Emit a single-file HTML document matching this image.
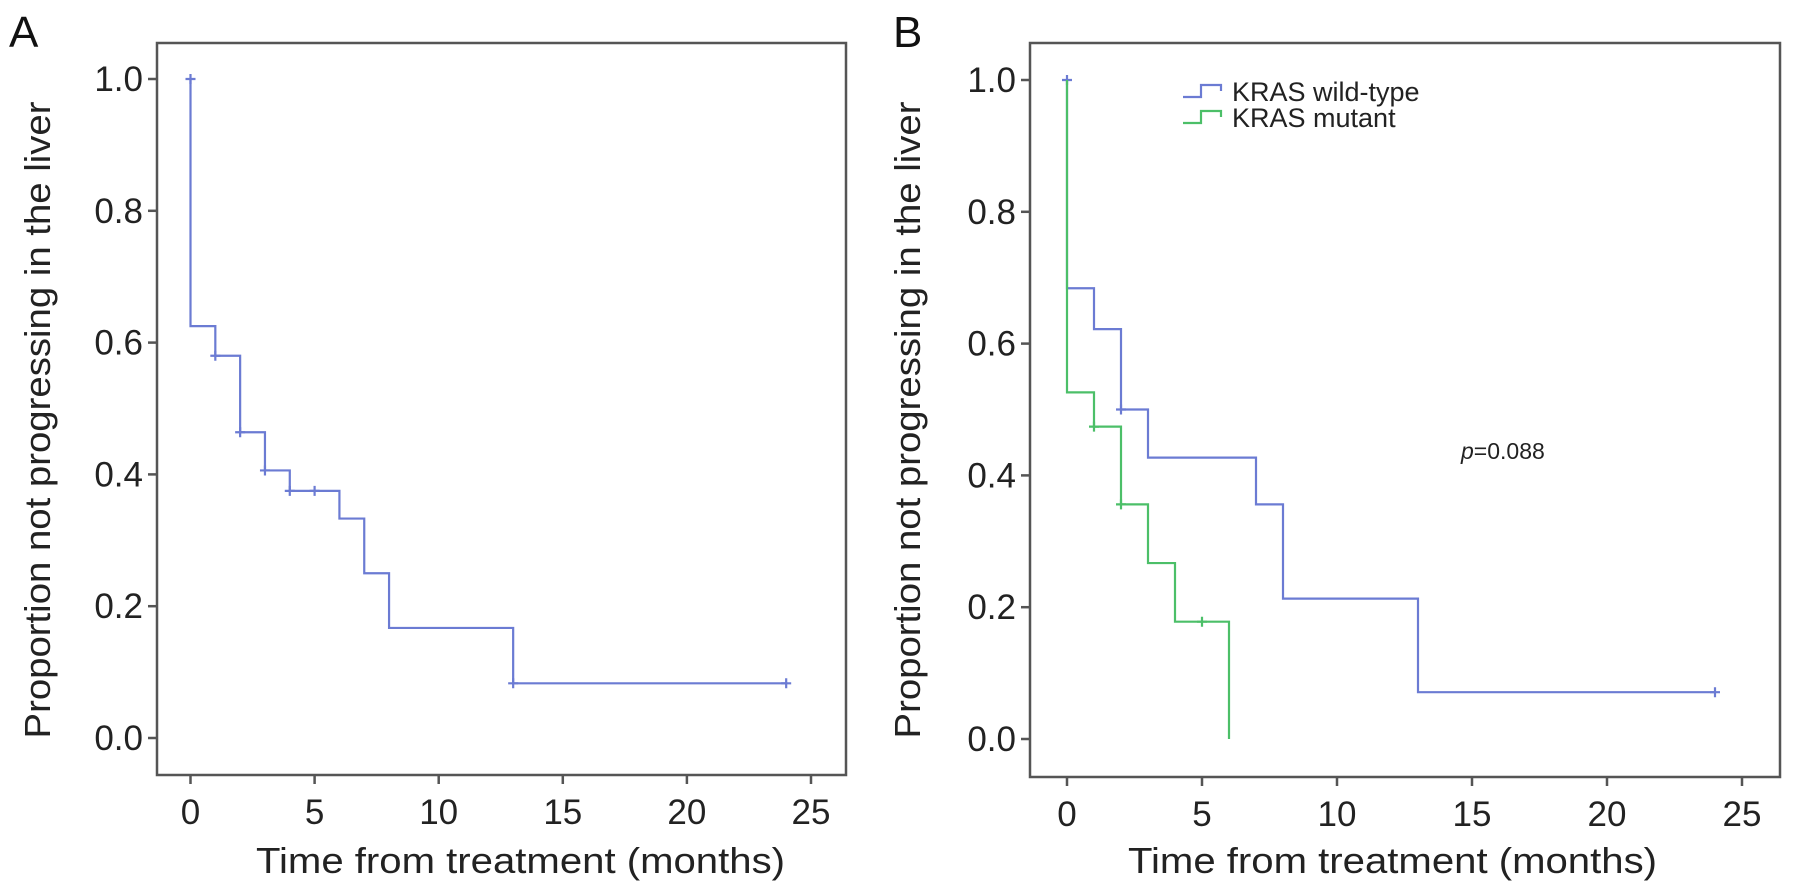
<!DOCTYPE html>
<html><head><meta charset="utf-8"><style>
html,body{margin:0;padding:0;background:#fff;}
svg{display:block;font-family:"Liberation Sans",sans-serif;}
</style></head><body>
<svg id="fig" width="1795" height="895" viewBox="0 0 1795 895"></svg>
<script>
// Panel A data
const aTimes = [0, 1, 2, 3, 4, 6, 7, 8, 13];
const aSurv  = [0.625, 0.58, 0.464, 0.406, 0.375, 0.333, 0.25, 0.167, 0.083];
const aEnd = 24;
const aCensT = [0, 1, 2, 3, 4, 5, 13, 24];
const aCensS = [1.0, 0.58, 0.464, 0.406, 0.375, 0.375, 0.083, 0.083];
// Panel B data
const wtTimes = [0, 1, 2, 3, 7, 8, 13];
const wtSurv  = [0.684, 0.622, 0.5, 0.427, 0.356, 0.213, 0.071];
const wtEnd = 24;
const wtCensT = [0, 2, 24];
const wtCensS = [1.0, 0.5, 0.071];
const muTimes = [0, 1, 2, 3, 4, 6];
const muSurv  = [0.526, 0.474, 0.356, 0.267, 0.178, 0.0];
const muEnd = 6;
const muCensT = [1, 2, 5];
const muCensS = [0.474, 0.356, 0.178];
const xTicks = [0, 5, 10, 15, 20, 25];
const yTicks = [0.0, 0.2, 0.4, 0.6, 0.8, 1.0];
const yTickLabels = ["0.0", "0.2", "0.4", "0.6", "0.8", "1.0"];

const NS = "http://www.w3.org/2000/svg";
const svg = document.getElementById("fig");
function mk(tag, attrs, parent){const e=document.createElementNS(NS,tag);for(const k in attrs)e.setAttribute(k,attrs[k]);(parent||svg).appendChild(e);return e;}

function panel(cfg){
  const g = mk("g",{});
  
  
  const X = t => cfg.x0 + t*(cfg.x25-cfg.x0)/25;
  const Y = v => cfg.y0 + v*(cfg.y1-cfg.y0);
  const box = mk("rect",{x:cfg.left,y:cfg.top,width:cfg.right-cfg.left,height:cfg.bottom-cfg.top,fill:"none",stroke:"#555","stroke-width":2.5},g);
  
  
  yTicks.forEach((v,i)=>{
    const tk = mk("line",{x1:cfg.left-9,x2:cfg.left,y1:Y(v),y2:Y(v),stroke:"#555","stroke-width":2.5},g);
    
    
    const t = mk("text",{x:cfg.left-14,y:Y(v)+12,"text-anchor":"end","font-size":35,fill:"#222"},g);
    t.textContent = yTickLabels[i];
    
    
  });
  xTicks.forEach(v=>{
    const tk = mk("line",{x1:X(v),x2:X(v),y1:cfg.bottom,y2:cfg.bottom+9,stroke:"#555","stroke-width":2.5},g);
    
    
    const t = mk("text",{x:X(v),y:cfg.bottom+49,"text-anchor":"middle","font-size":35,fill:"#222"},g);
    t.textContent = String(v);
    
    
  });
  const xt = mk("text",{x:cfg.xtStart,y:873,"font-size":36,fill:"#222",textLength:529,lengthAdjust:"spacingAndGlyphs"},g);
  xt.textContent = "Time from treatment  (months)";
  
  
  const yt = mk("text",{x:0,y:0,"font-size":36,fill:"#222","text-anchor":"middle",textLength:637,lengthAdjust:"spacingAndGlyphs",transform:`translate(${cfg.ytX},420) rotate(-90)`},g);
  yt.textContent = "Proportion not progressing in the liver";
  
  
  const lt = mk("text",{x:cfg.letterX,y:47,"font-size":44,fill:"#111"},g);
  lt.textContent = cfg.letter;
  
  
  return {g,X,Y};
}

function curve(p, times, surv, end, censT, censS, color, name){
  let d = `M${p.X(0)},${p.Y(1)}`;
  let prev = 1;
  times.forEach((t,i)=>{ d += ` L${p.X(t)},${p.Y(prev)} L${p.X(t)},${p.Y(surv[i])}`; prev = surv[i]; });
  d += ` L${p.X(end)},${p.Y(prev)}`;
  const path = mk("path",{d:d,fill:"none",stroke:color,"stroke-width":2.2},p.g);
  
  
  censT.forEach((t,i)=>{
    const c = mk("path",{d:`M${p.X(t)-5},${p.Y(censS[i])} h10 M${p.X(t)},${p.Y(censS[i])-5} v10`,stroke:color,"stroke-width":2.2},p.g);
    
    
  });
}

const pA = panel({name:"panel-a",left:157,right:846,top:43,bottom:775,x0:190.5,x25:811,y0:738,y1:79,xtStart:256,ytX:50,letterX:9,letter:"A"});
curve(pA,aTimes,aSurv,aEnd,aCensT,aCensS,"#6b7bd3","km-curve-overall");
const pB = panel({name:"panel-b",left:1030,right:1780,top:43,bottom:777,x0:1067,x25:1742,y0:739,y1:80,xtStart:1128,ytX:920,letterX:893,letter:"B"});
curve(pB,wtTimes,wtSurv,wtEnd,wtCensT,wtCensS,"#6b7bd3","km-curve-kras-wild-type");
curve(pB,muTimes,muSurv,muEnd,muCensT,muCensS,"#4cbf68","km-curve-kras-mutant");

// legend
const leg = mk("g",{});


[["KRAS wild-type","#6b7bd3",91],["KRAS mutant","#4cbf68",117]].forEach(r=>{
  const s = mk("path",{d:`M1183,${r[2]+6} h18 v-12 h20 v6`,fill:"none",stroke:r[1],"stroke-width":2.2},leg);
  
  
  const t = mk("text",{x:1232,y:r[2]+10,"font-size":27,fill:"#222"},leg);
  t.textContent = r[0];
  
  
});
const pv = mk("text",{x:1461,y:459,"font-size":23,fill:"#222"});
pv.innerHTML = '<tspan font-style="italic">p</tspan>=0.088';


</script>
</body></html>
